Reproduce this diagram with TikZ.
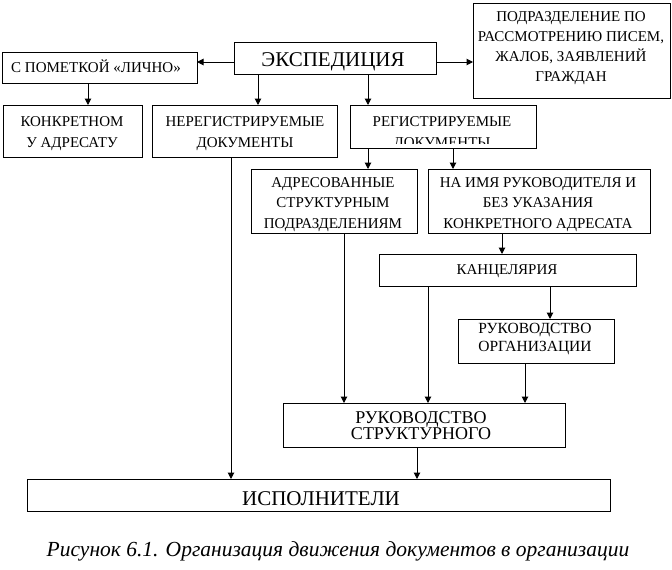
\documentclass[tikz,border=0pt]{standalone}
\usepackage{fontspec}
\setmainfont{Liberation Serif}
\usetikzlibrary{arrows.meta,fit}
\newcommand\lns[1]{\begin{tabular}[t]{@{}c@{}}#1\end{tabular}}
\begin{document}
\begin{tikzpicture}[x=1pt,y=-1pt,
  box/.style={draw, line width=1pt, inner sep=0pt, outer sep=0pt},
  txt/.style={inner sep=0pt, outer sep=0pt, anchor=base, font=\fontsize{15}{20.5}\selectfont},
  big/.style={txt, font=\fontsize{21}{24}\selectfont},
  arr/.style={line width=1pt, -{Triangle[length=6.5pt,width=6.5pt]}},
  ln/.style={line width=1pt}]
\useasboundingbox (0,0) rectangle (672,570);
% boxes
\node[box, fit={(234,42) (436,74)}] (exp) {};
\node[box, fit={(2,52) (197,83)}] (lichno) {};
\node[box, fit={(3,105) (142,157.5)}] (konkr) {};
\node[box, fit={(152,105) (337,157.5)}] (nereg) {};
\node[box, fit={(350,105) (536,148)}] (reg) {};
\node[box, fit={(473,3) (670,98)}] (podr) {};
\node[box, fit={(251,169) (417,233)}] (adr) {};
\node[box, fit={(428,169) (650,233)}] (naimya) {};
\node[box, fit={(379,254) (636,286)}] (kanc) {};
\node[box, fit={(458,319) (614,363)}] (rukorg) {};
\node[box, fit={(283,403) (565,447)}] (rukstr) {};
\node[box, fit={(27,479) (610,511)}] (isp) {};
% texts
\node[big] (expT) at (333,66) {ЭКСПЕДИЦИЯ};
\node[txt] (lichnoT) at (96,72) {С ПОМЕТКОЙ «ЛИЧНО»};
\node[txt, font=\fontsize{15}{21}\selectfont] (konkrT) at (72,126) {\lns{КОНКРЕТНОМ\\У АДРЕСАТУ}};
\node[txt, font=\fontsize{15}{21}\selectfont] (neregT) at (245,126) {\lns{НЕРЕГИСТРИРУЕМЫЕ\\ДОКУМЕНТЫ}};
\begin{scope}
  \clip (350,105) rectangle (536,143);
  \node[txt, font=\fontsize{15}{21}\selectfont] (regT) at (442,126) {\lns{РЕГИСТРИРУЕМЫЕ\\ДОКУМЕНТЫ}};
\end{scope}
\node[txt, font=\fontsize{15}{20}\selectfont] (podrT) at (571,21) {\lns{ПОДРАЗДЕЛЕНИЕ ПО\\РАССМОТРЕНИЮ ПИСЕМ,\\ЖАЛОБ, ЗАЯВЛЕНИЙ\\ГРАЖДАН}};
\node[txt] (adrT) at (333,187) {\lns{АДРЕСОВАННЫЕ\\СТРУКТУРНЫМ\\ПОДРАЗДЕЛЕНИЯМ}};
\node[txt] (naimyaT) at (538,187) {\lns{НА ИМЯ РУКОВОДИТЕЛЯ И\\БЕЗ УКАЗАНИЯ\\КОНКРЕТНОГО АДРЕСАТА}};
\node[txt] (kancT) at (507,274) {КАНЦЕЛЯРИЯ};
\node[txt, font=\fontsize{15.5}{18}\selectfont] (rukorgT) at (535,333) {\lns{РУКОВОДСТВО\\ОРГАНИЗАЦИИ}};
\node[txt, font=\fontsize{18}{15.5}\selectfont] (rukstrT) at (421,423) {\lns{РУКОВОДСТВО\\СТРУКТУРНОГО}};
\node[big] (ispT) at (321,505) {ИСПОЛНИТЕЛИ};
\node[txt, font=\fontsize{21.5}{24}\selectfont\itshape] (capT) at (338,556) {Рисунок 6.1. Организация движения документов в организации};
% connectors
\draw[arr] (exp.west |- 0,62) -- (lichno.east |- 0,62);
\draw[arr] (exp.east |- 0,62) -- (podr.west |- 0,62);
\draw[arr] (lichno.south -| 88,0) -- (konkr.north -| 88,0);
\draw[arr] (exp.south -| 258,0) -- (nereg.north -| 258,0);
\draw[arr] (exp.south -| 368,0) -- (reg.north -| 368,0);
\draw[arr] (reg.south -| 368,0) -- (adr.north -| 368,0);
\draw[arr] (reg.south -| 453,0) -- (naimya.north -| 453,0);
\draw[arr] (naimya.south -| 502,0) -- (kanc.north -| 502,0);
\draw[arr] (kanc.south -| 550,0) -- (rukorg.north -| 550,0);
\draw[arr] (adr.south -| 344,0) -- (rukstr.north -| 344,0);
\draw[arr] (kanc.south -| 428,0) -- (rukstr.north -| 428,0);
\draw[arr] (rukorg.south -| 525,0) -- (rukstr.north -| 525,0);
\draw[arr] (rukstr.south -| 417,0) -- (isp.north -| 417,0);
\draw[arr] (nereg.south -| 231,0) -- (isp.north -| 231,0);
\end{tikzpicture}
\end{document}
